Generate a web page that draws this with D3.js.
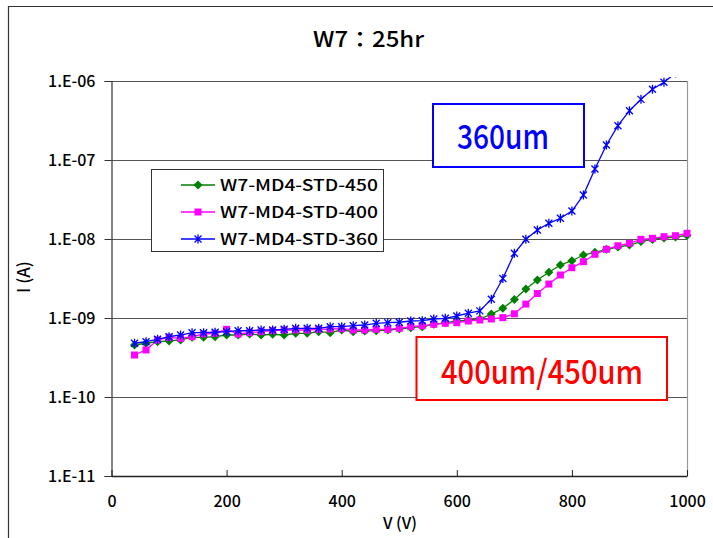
<!DOCTYPE html>
<html><head><meta charset="utf-8">
<script src="https://cdn.jsdelivr.net/npm/d3@7"></script>
<style>body{margin:0;background:#fff}svg{display:block}text{font-family:"Noto Sans CJK JP","Liberation Sans",sans-serif}</style>
</head><body>
<svg id="c" width="713" height="538"></svg>
<script>
const voltages = d3.range(40, 1001, 20);
const series450 = [4.55e-10,4.79e-10,5.01e-10,5.12e-10,5.27e-10,5.70e-10,5.70e-10,5.80e-10,6.09e-10,6.09e-10,6.27e-10,6.09e-10,6.22e-10,6.09e-10,6.40e-10,6.40e-10,6.71e-10,6.52e-10,7.05e-10,6.71e-10,6.85e-10,6.91e-10,7.05e-10,7.26e-10,7.54e-10,7.76e-10,8.32e-10,8.72e-10,9.10e-10,9.44e-10,9.71e-10,1.12e-9,1.33e-9,1.71e-9,2.33e-9,3.03e-9,3.79e-9,4.69e-9,5.31e-9,6.27e-9,6.79e-9,7.41e-9,7.92e-9,8.39e-9,9.29e-9,9.86e-9,1.03e-8,1.06e-8,1.11e-8];
const series400 = [3.40e-10,3.94e-10,5.27e-10,5.70e-10,5.53e-10,5.80e-10,6.27e-10,6.40e-10,7.19e-10,6.27e-10,6.52e-10,6.71e-10,6.91e-10,7.05e-10,7.05e-10,7.05e-10,7.19e-10,7.26e-10,7.32e-10,7.05e-10,7.05e-10,7.19e-10,7.19e-10,7.41e-10,7.76e-10,7.99e-10,8.32e-10,8.57e-10,8.72e-10,9.16e-10,9.44e-10,9.71e-10,1.01e-9,1.13e-9,1.50e-9,2.04e-9,2.69e-9,3.50e-9,4.33e-9,5.16e-9,6.40e-9,7.41e-9,8.22e-9,8.83e-9,9.91e-9,1.02e-8,1.07e-8,1.10e-8,1.18e-8];
const series360 = [4.79e-10,5.01e-10,5.37e-10,5.80e-10,6.09e-10,6.52e-10,6.52e-10,6.60e-10,6.71e-10,6.91e-10,6.90e-10,7.05e-10,7.05e-10,7.19e-10,7.41e-10,7.40e-10,7.40e-10,7.76e-10,7.76e-10,7.99e-10,8.15e-10,8.57e-10,8.72e-10,8.83e-10,9.16e-10,9.24e-10,9.71e-10,9.91e-10,1.06e-9,1.15e-9,1.23e-9,1.73e-9,3.16e-9,6.59e-9,9.91e-9,1.30e-8,1.58e-8,1.83e-8,2.26e-8,3.60e-8,7.69e-8,1.55e-7,2.72e-7,4.21e-7,5.86e-7,7.85e-7,9.63e-7,1.26e-6];
const seriesNames = ["W7-MD4-STD-450","W7-MD4-STD-400","W7-MD4-STD-360"];
const seriesColors = ["#008000","#FF00FF","#0000FF"];
const seriesMarkers = ["diamond","square","star"];
const yTickValues = [1e-11,1e-10,1e-9,1e-8,1e-7,1e-6];
const yTickLabels = ["1.E-11","1.E-10","1.E-09","1.E-08","1.E-07","1.E-06"];
const xTickValues = [0,200,400,600,800,1000];
const titleText = "W7：25hr";
const xLabel = "V (V)";
const yLabel = "I (A)";
const note360 = "360um";
const note400 = "400um/450um";

const svg = d3.select("#c");
svg.append("rect").attr("width",713).attr("height",538).attr("fill","#fff");
svg.append("path").attr("d","M8.5,538V6.5H713").attr("fill","none").attr("stroke","#333").attr("stroke-width",1.2);

const L=111.5, R=687, T=81, B=476;
const x = d3.scaleLinear().domain([0,1000]).range([L,R]);
const y = d3.scaleLog().domain([1e-11,1e-6]).range([B,T]);

svg.append("g").selectAll("line").data(yTickValues.slice(1)).join("line")
  .attr("x1",L).attr("x2",R).attr("y1",d=>Math.round(y(d))+0.5).attr("y2",d=>Math.round(y(d))+0.5)
  .attr("stroke","#555").attr("stroke-width",1);
svg.append("line").attr("x1",R+0.5).attr("x2",R+0.5).attr("y1",T).attr("y2",B).attr("stroke","#999").attr("stroke-width",1.2);

const yAxis = d3.axisLeft(y).tickValues(yTickValues).tickSize(7).tickPadding(9)
  .tickFormat((d,i)=>yTickLabels[i]);
const gy = svg.append("g").attr("transform",`translate(${L},0)`).call(yAxis);
gy.select(".domain").attr("stroke","#333").attr("stroke-width",1.2);
gy.selectAll(".tick line").attr("stroke","#333");
gy.selectAll("text").attr("font-size",16).attr("fill","#000").attr("font-weight",500).attr("dy","0.36em");

const xAxis = d3.axisBottom(x).tickValues(xTickValues).tickSizeInner(-6).tickSizeOuter(0).tickPadding(20).tickFormat(d3.format("d"));
const gx = svg.append("g").attr("transform",`translate(0,${B})`).call(xAxis);
gx.select(".domain").attr("stroke","#222").attr("stroke-width",1.4);
gx.selectAll(".tick line").attr("stroke","#222");
gx.selectAll("text").attr("font-size",16).attr("fill","#000").attr("font-weight",500);

svg.append("text").attr("x",368.5).attr("y",47).attr("text-anchor","middle").attr("font-size",22).attr("font-weight",500)
  .attr("textLength",111).attr("lengthAdjust","spacingAndGlyphs").text(titleText);
svg.append("text").attr("x",400).attr("y",529).attr("text-anchor","middle").attr("font-size",16).attr("font-weight",500).text(xLabel);
svg.append("text").attr("transform","translate(30,277) rotate(-90)").attr("text-anchor","middle").attr("font-size",17).attr("font-weight",500).text(yLabel);

function marker(g, type, color, cx, cy){
  if(type==="diamond"){
    g.append("path").attr("d",`M${cx},${cy-4.5}L${cx+4.5},${cy}L${cx},${cy+4.5}L${cx-4.5},${cy}Z`).attr("fill",color);
  } else if(type==="square"){
    g.append("rect").attr("x",cx-3.5).attr("y",cy-3.5).attr("width",7).attr("height",7).attr("fill",color);
  } else {
    g.append("path").attr("d",`M${cx-3.5},${cy-3.5}L${cx+3.5},${cy+3.5}M${cx-3.5},${cy+3.5}L${cx+3.5},${cy-3.5}M${cx},${cy-4.5}V${cy+4.5}`)
      .attr("stroke",color).attr("stroke-width",1.3).attr("fill","none");
  }
}

svg.append("clipPath").attr("id","pc").append("rect").attr("x",100).attr("y",77).attr("width",600).attr("height",410);
const plot = svg.append("g").attr("clip-path","url(#pc)");
const allSeries = [series450, series400, series360];
allSeries.forEach((s,k)=>{
  const pts = s.map((v,i)=>[voltages[i], v]);
  const line = d3.line().x(d=>x(d[0])).y(d=>y(d[1]));
  plot.append("path").attr("d",line(pts)).attr("fill","none").attr("stroke",seriesColors[k]).attr("stroke-width",1.3);
  const g = plot.append("g");
  pts.forEach(p=>marker(g, seriesMarkers[k], seriesColors[k], x(p[0]), y(p[1])));
});

const lg = svg.append("g");
lg.append("rect").attr("x",151.5).attr("y",169.5).attr("width",232).attr("height",82).attr("fill","#fff").attr("stroke","#333").attr("stroke-width",1);
seriesNames.forEach((n,k)=>{
  const cy = 185 + k*27;
  lg.append("line").attr("x1",181).attr("x2",215).attr("y1",cy).attr("y2",cy).attr("stroke",seriesColors[k]).attr("stroke-width",1.3);
  marker(lg, seriesMarkers[k], seriesColors[k], 198, cy);
  lg.append("text").attr("x",220).attr("y",cy+6).attr("font-size",16).attr("font-weight",500).attr("textLength",158).attr("lengthAdjust","spacingAndGlyphs").text(n);
});

svg.append("rect").attr("x",433).attr("y",104).attr("width",151).attr("height",63).attr("fill","#fff").attr("stroke","#0000FF").attr("stroke-width",2);
svg.append("text").attr("x",457).attr("y",149).attr("font-size",34).attr("font-weight",500).attr("fill","#0000FF").attr("textLength",92).attr("lengthAdjust","spacingAndGlyphs").text(note360);
svg.append("rect").attr("x",416.5).attr("y",337).attr("width",250.5).attr("height",63).attr("fill","#fff").attr("stroke","#FF0000").attr("stroke-width",2);
svg.append("text").attr("x",441).attr("y",384).attr("font-size",33).attr("font-weight",500).attr("fill","#FF0000").attr("textLength",202).attr("lengthAdjust","spacingAndGlyphs").text(note400);
</script>
</body></html>
